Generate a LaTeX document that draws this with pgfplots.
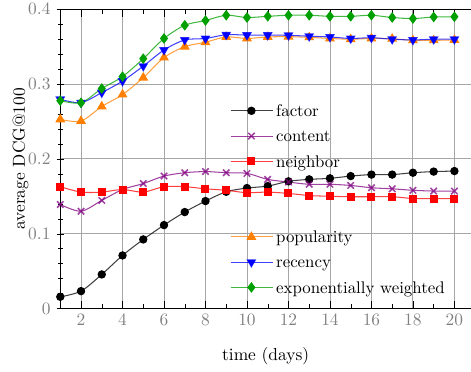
\documentclass[border=0pt]{standalone}
\usepackage{pgfplots}
\pgfplotsset{compat=1.18}
\definecolor{cgreen}{RGB}{0,160,0}
\definecolor{corange}{RGB}{255,128,0}
\definecolor{cpurple}{RGB}{128,0,128}
\begin{document}
\begin{tikzpicture}
\begin{axis}[
  width=236.4pt, height=172.2pt, scale only axis,
  xmin=1, xmax=20.8, ymin=0, ymax=0.4,
  xtick={2,4,...,20}, ytick={0,0.1,0.2,0.3,0.4},
  yticklabels={0,0.1,0.2,0.3,0.4},
  minor x tick num=1, minor y tick num=4,
  separate axis lines,
  axis x line=box, axis y line=left,
  axis line style={-, black},
  grid=major, major grid style={gray!70, line width=0.5pt},
  tick style={black},
  ticklabel style={text=gray},
  xlabel={time (days)}, ylabel={average DCG@100},
  xlabel style={yshift=-5.5pt}, ylabel style={yshift=-7pt},
  every axis plot/.append style={line width=0.6pt, draw opacity=0.75, mark options={solid, draw opacity=1, fill opacity=1}},
  legend cell align=left,
  legend style={draw=none, fill=none, at={(rel axis cs:0.40,0.713)}, anchor=north west, row sep=0.9pt, font=\fontsize{9.7}{11.6}\selectfont},
  legend image code/.code={\draw[mark repeat=2,mark phase=2] plot coordinates {(0cm,0cm) (0.42cm,0cm) (0.84cm,0cm)};},
]
\addplot[black, mark=*, mark size=2.1pt, smooth] coordinates {
(1,0.0156) (2,0.0232) (3,0.0455) (4,0.0709) (5,0.0923) (6,0.1115) (7,0.1289) (8,0.1436) (9,0.156) (10,0.161)
(11,0.1636) (12,0.170) (13,0.1726) (14,0.174) (15,0.177) (16,0.179) (17,0.179) (18,0.1815) (19,0.183) (20,0.1837)};
\addlegendentry{\strut factor}
\addplot[cpurple, mark=x, mark size=2.6pt, mark options={line width=0.9pt}, smooth] coordinates {
(1,0.139) (2,0.130) (3,0.1445) (4,0.159) (5,0.167) (6,0.177) (7,0.1815) (8,0.183) (9,0.1815) (10,0.1806)
(11,0.1726) (12,0.169) (13,0.166) (14,0.166) (15,0.1645) (16,0.1614) (17,0.160) (18,0.158) (19,0.157) (20,0.157)};
\addlegendentry{\strut content}
\addplot[red, mark=square*, mark size=2.0pt, smooth] coordinates {
(1,0.1628) (2,0.1556) (3,0.1556) (4,0.159) (5,0.1556) (6,0.1628) (7,0.1628) (8,0.160) (9,0.158) (10,0.1548)
(11,0.1556) (12,0.1538) (13,0.151) (14,0.150) (15,0.1494) (16,0.1494) (17,0.1494) (18,0.147) (19,0.147) (20,0.147)};
\addlegendentry{\strut neighbor}
\addlegendimage{empty legend}\addlegendentry{\strut}
\addlegendimage{empty legend}\addlegendentry{\strut}
\addplot[corange, mark=triangle*, mark size=2.7pt, smooth] coordinates {
(1,0.2528) (2,0.2506) (3,0.270) (4,0.286) (5,0.3086) (6,0.3354) (7,0.350) (8,0.356) (9,0.363) (10,0.361)
(11,0.363) (12,0.3634) (13,0.3625) (14,0.361) (15,0.360) (16,0.361) (17,0.3606) (18,0.3585) (19,0.3585) (20,0.359)};
\addlegendentry{\strut popularity}
\addplot[blue, mark=triangle*, mark size=2.7pt, mark options={rotate=180}, smooth] coordinates {
(1,0.2796) (2,0.2752) (3,0.2886) (4,0.304) (5,0.324) (6,0.3456) (7,0.359) (8,0.361) (9,0.366) (10,0.3655)
(11,0.3655) (12,0.3652) (13,0.364) (14,0.363) (15,0.361) (16,0.362) (17,0.360) (18,0.359) (19,0.360) (20,0.360)};
\addlegendentry{\strut recency}
\addplot[cgreen, mark=diamond*, mark size=2.6pt, smooth] coordinates {
(1,0.2779) (2,0.275) (3,0.294) (4,0.310) (5,0.334) (6,0.361) (7,0.3786) (8,0.385) (9,0.392) (10,0.389)
(11,0.3906) (12,0.392) (13,0.392) (14,0.3906) (15,0.3906) (16,0.392) (17,0.389) (18,0.3876) (19,0.3897) (20,0.390)};
\addlegendentry{\strut exponentially weighted}
\end{axis}
\pgfresetboundingbox
\path (current axis.south west) ++(-34.7pt,-36pt) coordinate (bl);
\path (current axis.north east) ++(0pt,5.35pt) coordinate (tr);
\path (bl) rectangle (tr);
\end{tikzpicture}
\end{document}
